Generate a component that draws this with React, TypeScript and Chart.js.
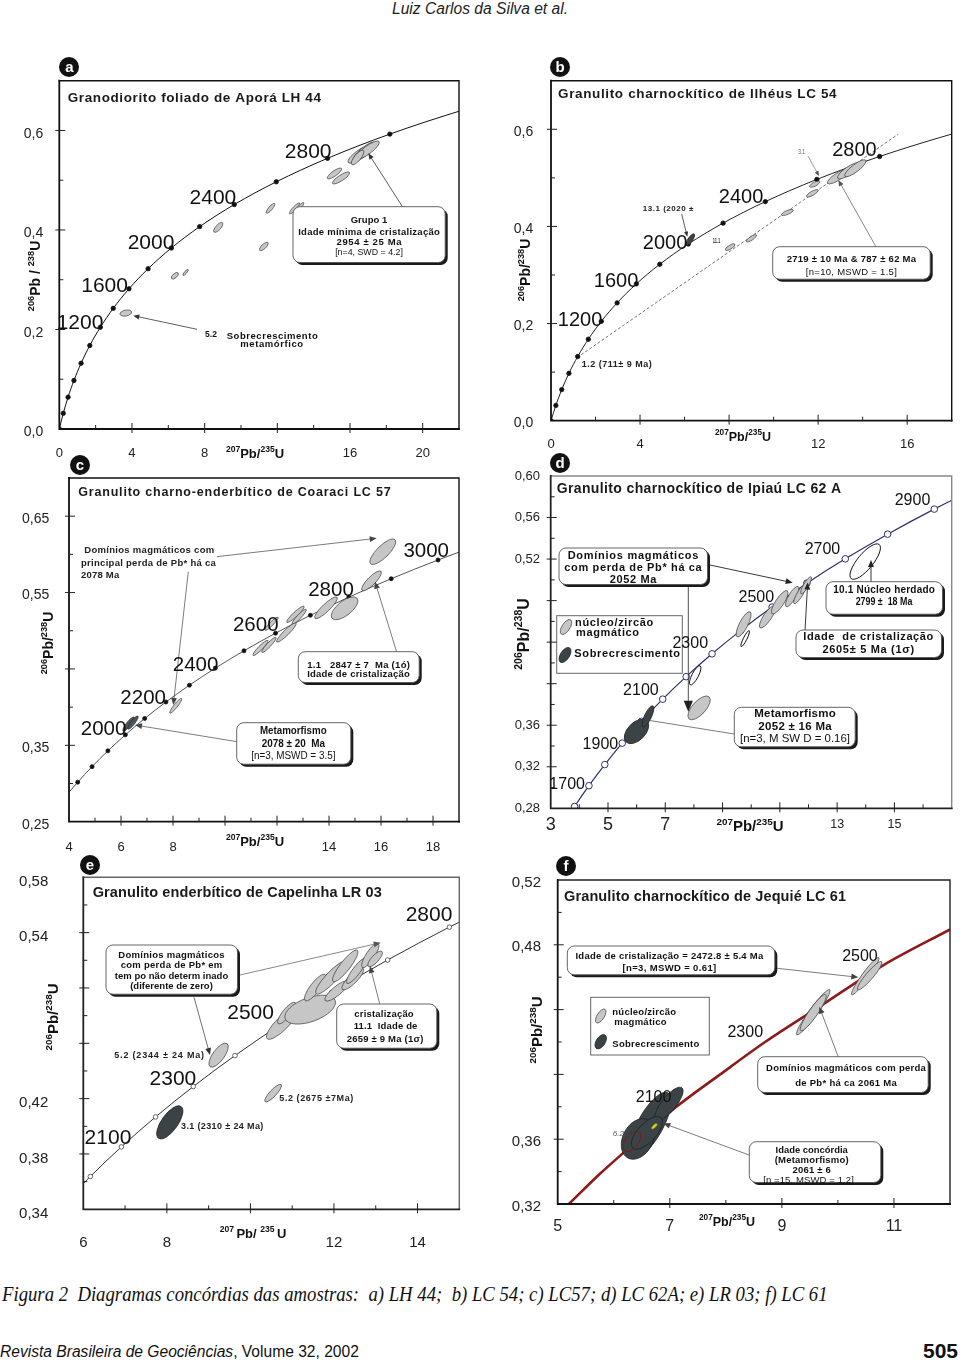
import React, { useEffect, useRef } from "react";
import { Chart, registerables } from "chart.js";
Chart.register(...registerables);

// ------------------------------------------------------------------ DATA
// Concordia (Wetherill) reference ages in Ma and their isotope ratios
const concAges = [0, 200, 400, 600, 800, 1000, 1200, 1400, 1500, 1600, 1700, 1800, 1900, 2000, 2100, 2200, 2300, 2400, 2500, 2600, 2700, 2800, 2900, 3000, 3100, 3200];
const concX = [0, 0.2177, 0.4828, 0.8056, 1.1988, 1.6774, 2.2603, 2.9701, 3.3811, 3.8344, 4.3348, 4.8874, 5.4962, 6.1685, 6.9104, 7.7292, 8.6327, 9.6295, 10.7301, 11.9444, 13.2842, 14.7625, 16.3924, 18.193, 20.1795, 22.3714];
const concY = [0, 0.03151, 0.06402, 0.09754, 0.13213, 0.1678, 0.20458, 0.24257, 0.26199, 0.28172, 0.30175, 0.3221, 0.34278, 0.36375, 0.3851, 0.40676, 0.42875, 0.4511, 0.47378, 0.49682, 0.52022, 0.54399, 0.56812, 0.59264, 0.61753, 0.64282];

// panel b discordia (787 Ma - 2719 Ma, extended)
const discX = [1.17, 15.6];
const discY = [0.1298, 0.59];

// panel f concordia as drawn in the figure
const fCurveX = [5.2, 5.75, 6.4, 7.1, 7.9, 8.7, 9.7, 10.8, 12.0];
const fCurveY = [0.32, 0.3385, 0.3585, 0.3795, 0.4, 0.42, 0.4425, 0.4672, 0.4895];

// age labels on the concordia
const aAgeLabels = [1200, 1600, 2000, 2400, 2800];
const bAgeLabels = [1200, 1600, 2000, 2400, 2800];
const cAgeLabels = [2000, 2200, 2400, 2600, 2800, 3000];
const dAgeLabels = [1700, 1900, 2100, 2300, 2500, 2700, 2900];
const eAgeLabels = [2100, 2300, 2500, 2800];
const fAgeLabels = [2100, 2300, 2500];
const fAgeX = [7.1, 8.7, 10.8];
const fAgeY = [0.3795, 0.42, 0.4672];

// tick labels
const aXTickLabels = [0, 4, 8, 16, 20];
const aYTickLabels = [0, 0.2, 0.4, 0.6];
const bXTickLabels = [0, 4, 12, 16];
const bYTickLabels = [0, 0.2, 0.4, 0.6];
const cXTickLabels = [4, 6, 8, 14, 16, 18];
const cYTickLabels = [0.25, 0.35, 0.55, 0.65];
const dXTickLabels = [3, 5, 7, 13, 15];
const dYTickLabels = [0.28, 0.32, 0.36, 0.52, 0.56, 0.6];
const eXTickLabels = [6, 8, 12, 14];
const eYTickLabels = [0.34, 0.38, 0.42, 0.54, 0.58];
const fXTickLabels = [5, 7, 9, 11];
const fYTickLabels = [0.32, 0.36, 0.48, 0.52];

// error ellipses: [x1, y1, x2, y2, minor/major ratio, kind]  (major axis ends, ratio units)
type Ell = [number, number, number, number, number, string];
const ellA: Ell[] = [
  [15.9, 0.5356, 17.1, 0.5677, 0.3, "g"],
  [16.2, 0.5396, 17.4, 0.5757, 0.3, "g"],
  [16.36, 0.5436, 17.6, 0.5777, 0.28, "g"],
  [16.1, 0.5316, 16.74, 0.5597, 0.35, "g"],
  [14.76, 0.5035, 15.53, 0.5236, 0.3, "g"],
  [15.04, 0.4935, 15.97, 0.5155, 0.28, "g"],
  [11.4, 0.434, 11.85, 0.453, 0.3, "g"],
  [12.68, 0.4327, 13.22, 0.454, 0.25, "g"],
  [12.95, 0.4347, 13.45, 0.4547, 0.25, "g"],
  [8.52, 0.3958, 8.98, 0.4146, 0.4, "g"],
  [11.03, 0.359, 11.48, 0.3745, 0.4, "g"],
  [6.18, 0.3023, 6.54, 0.3136, 0.5, "g"],
  [6.81, 0.3089, 7.09, 0.3204, 0.3, "g"],
  [3.34, 0.2307, 3.98, 0.2353, 0.5, "g"],
];
const ellB: Ell[] = [
  [6.09, 0.3617, 6.43, 0.3844, 0.35, "k"],
  [7.84, 0.3514, 8.26, 0.3632, 0.35, "g"],
  [8.78, 0.3686, 9.23, 0.3823, 0.3, "g"],
  [10.35, 0.4235, 10.88, 0.4338, 0.3, "g"],
  [11.48, 0.4612, 12.0, 0.475, 0.3, "g"],
  [12.43, 0.4888, 13.33, 0.5161, 0.3, "g"],
  [12.88, 0.4991, 13.87, 0.53, 0.3, "g"],
  [13.2, 0.5032, 14.14, 0.5362, 0.28, "g"],
  [11.62, 0.4818, 12.07, 0.4921, 0.35, "g"],
];
const ellC: Ell[] = [
  [15.6, 0.5878, 16.54, 0.6192, 0.35, "g"],
  [15.27, 0.5529, 16.0, 0.5778, 0.3, "g"],
  [13.46, 0.5163, 14.31, 0.5438, 0.25, "g"],
  [14.12, 0.5163, 15.08, 0.5425, 0.45, "g"],
  [12.38, 0.5111, 13.04, 0.532, 0.2, "g"],
  [12.58, 0.5085, 13.12, 0.5281, 0.2, "g"],
  [11.99, 0.4853, 12.73, 0.5101, 0.2, "g"],
  [11.54, 0.5006, 12.04, 0.5177, 0.2, "g"],
  [11.08, 0.4677, 11.65, 0.4873, 0.2, "g"],
  [11.42, 0.4717, 11.96, 0.4913, 0.2, "g"],
  [7.88, 0.3921, 8.33, 0.4113, 0.2, "g"],
  [6.08, 0.3686, 6.5, 0.3869, 0.25, "d"],
  [6.27, 0.3713, 6.65, 0.3883, 0.25, "d"],
];
const ellD: Ell[] = [
  [5.63, 0.3439, 6.36, 0.3641, 0.6, "k"],
  [6.22, 0.3584, 6.57, 0.3786, 0.3, "k"],
  [7.83, 0.3661, 8.53, 0.3873, 0.45, "g"],
  [7.87, 0.3989, 8.22, 0.4172, 0.3, "o"],
  [9.51, 0.4451, 9.96, 0.4692, 0.3, "g"],
  [9.65, 0.4357, 9.93, 0.4511, 0.2, "o"],
  [10.31, 0.4538, 10.83, 0.475, 0.3, "g"],
  [10.73, 0.4673, 11.26, 0.4895, 0.3, "g"],
  [11.22, 0.4743, 11.64, 0.4936, 0.3, "g"],
  [11.5, 0.4771, 11.92, 0.4964, 0.25, "g"],
  [11.74, 0.4866, 12.09, 0.5029, 0.25, "g"],
  [13.49, 0.5012, 14.47, 0.534, 0.35, "o"],
];
const ellE: Ell[] = [
  [7.8, 0.3914, 8.34, 0.4143, 0.42, "k"],
  [9.035, 0.4431, 9.442, 0.4598, 0.4, "g"],
  [10.352, 0.4178, 10.735, 0.4301, 0.28, "g"],
  [10.4, 0.4634, 11.119, 0.4851, 0.3, "g"],
  [10.664, 0.4742, 11.071, 0.4895, 0.3, "g"],
  [10.831, 0.4778, 12.029, 0.4909, 0.45, "g"],
  [11.31, 0.4909, 11.79, 0.5097, 0.3, "g"],
  [11.574, 0.4959, 12.293, 0.5191, 0.25, "g"],
  [11.79, 0.4909, 12.34, 0.5047, 0.3, "g"],
  [11.98, 0.5047, 12.56, 0.5272, 0.25, "g"],
  [12.2, 0.4989, 12.7, 0.5141, 0.3, "g"],
  [12.31, 0.5033, 12.76, 0.5214, 0.25, "g"],
  [12.68, 0.5148, 13.06, 0.5322, 0.3, "g"],
  [12.82, 0.5156, 13.15, 0.5264, 0.35, "g"],
];
const ellF: Ell[] = [
  [6.342, 0.3491, 6.966, 0.3886, 0.35, "k"],
  [6.752, 0.3719, 7.216, 0.3917, 0.35, "k"],
  [6.253, 0.3484, 6.61, 0.3719, 0.7, "k"],
  [6.342, 0.3546, 6.841, 0.3732, 0.45, "k"],
  [6.2, 0.3528, 6.45, 0.3645, 0.55, "r"],
  [6.68, 0.3664, 6.77, 0.3695, 0.4, "y"],
  [9.266, 0.4245, 9.854, 0.4523, 0.15, "g"],
  [9.337, 0.427, 9.782, 0.4492, 0.2, "g"],
  [10.246, 0.4492, 10.727, 0.4721, 0.15, "g"],
  [10.353, 0.4523, 10.781, 0.4696, 0.2, "g"],
];

// ------------------------------------------------------------------ DRAW HELPERS
const FF = '"Liberation Sans", Arial, Helvetica, sans-serif';
const ELL_STYLE: any = {
  g: { fill: "#c6c6c6", stroke: "#3a3a3a", lw: 0.7 },
  k: { fill: "#3c4347", stroke: "#1d2123", lw: 0.8 },
  d: { fill: "#4d565b", stroke: "#222", lw: 0.7 },
  o: { fill: "#ffffff", stroke: "#111", lw: 1 },
  r: { fill: null, stroke: "#7a1c1c", lw: 1 },
  y: { fill: "#d8cf2a", stroke: "#9a9010", lw: 0.5 },
};

function setF(ctx: any, size: number, bold = false, italic = false) {
  ctx.font = `${italic ? "italic " : ""}${bold ? "bold " : ""}${size}px ${FF}`;
}

function T(ctx: any, s: string, x: number, y: number, size: number, bold = false, align = "left", w = 0, color = "#111", italic = false) {
  ctx.save();
  setF(ctx, size, bold, italic);
  ctx.fillStyle = color;
  ctx.textBaseline = "middle";
  ctx.textAlign = "left";
  const hasLS = "letterSpacing" in ctx;
  if (hasLS) ctx.letterSpacing = "0px";
  const w0 = ctx.measureText(s).width;
  const tw = w > 0 ? w : w0;
  const x0 = align === "left" ? x : align === "center" ? x - tw / 2 : x - tw;
  if (tw <= w0 + 0.01) {
    ctx.translate(x0, y);
    ctx.scale(tw / w0, 1);
    ctx.fillText(s, 0, 0);
  } else {
    const chars = Array.from(s);
    const ls = chars.length > 1 ? (tw - w0) / (chars.length - 1) : 0;
    if (hasLS) {
      ctx.letterSpacing = ls.toFixed(2) + "px";
      ctx.fillText(s, x0, y);
    } else {
      let cx = x0;
      for (const ch of chars) {
        ctx.fillText(ch, cx, y);
        cx += ctx.measureText(ch).width + ls;
      }
    }
  }
  ctx.restore();
}

type Part = [string, number, boolean, number];
function rich(ctx: any, parts: Part[], cx: number, cy: number, main: number, rot = 0) {
  ctx.save();
  let total = 0;
  const ws: number[] = [];
  for (const p of parts) {
    setF(ctx, p[1], p[2]);
    const w = ctx.measureText(p[0]).width;
    ws.push(w);
    total += w;
  }
  ctx.translate(cx, cy);
  if (rot) ctx.rotate(rot);
  ctx.textBaseline = "alphabetic";
  ctx.textAlign = "left";
  ctx.fillStyle = "#111";
  let x = -total / 2;
  parts.forEach((p, i) => {
    setF(ctx, p[1], p[2]);
    ctx.fillText(p[0], x, main * 0.36 + p[3]);
    x += ws[i];
  });
  ctx.restore();
}
const xt = (s: number, gap = false): Part[] => [
  ["207" + (gap ? " " : ""), s * 0.66, true, -s * 0.42],
  ["Pb", s, true, 0],
  [gap ? "/ " : "/", s, true, 0],
  ["235" + (gap ? " " : ""), s * 0.66, true, -s * 0.42],
  ["U", s, true, 0],
];
const yt = (s: number, sep = "/"): Part[] => [
  ["206", s * 0.66, true, -s * 0.42],
  ["Pb", s, true, 0],
  [sep, s, true, 0],
  ["238", s * 0.66, true, -s * 0.42],
  ["U", s, true, 0],
];

function rrPath(ctx: any, x: number, y: number, w: number, h: number, r: number) {
  ctx.beginPath();
  ctx.moveTo(x + r, y);
  ctx.arcTo(x + w, y, x + w, y + h, r);
  ctx.arcTo(x + w, y + h, x, y + h, r);
  ctx.arcTo(x, y + h, x, y, r);
  ctx.arcTo(x, y, x + w, y, r);
  ctx.closePath();
}
function rbox(ctx: any, x1: number, y1: number, x2: number, y2: number, r = 7, sh = 2.5) {
  const w = x2 - x1 - sh, h = y2 - y1 - sh;
  ctx.save();
  ctx.fillStyle = "#1a1a1a";
  rrPath(ctx, x1 + sh, y1 + sh, w, h, r);
  ctx.fill();
  ctx.fillStyle = "#fff";
  rrPath(ctx, x1, y1, w, h, r);
  ctx.fill();
  ctx.strokeStyle = "#555";
  ctx.lineWidth = 0.9;
  ctx.stroke();
  ctx.restore();
}
function sbox(ctx: any, x1: number, y1: number, x2: number, y2: number) {
  ctx.save();
  ctx.fillStyle = "#fff";
  ctx.fillRect(x1, y1, x2 - x1, y2 - y1);
  ctx.strokeStyle = "#666";
  ctx.lineWidth = 1;
  ctx.strokeRect(x1, y1, x2 - x1, y2 - y1);
  ctx.restore();
}
function arrow(ctx: any, x1: number, y1: number, x2: number, y2: number, head = 6, tip = true, lw = 0.8, color = "#333") {
  ctx.save();
  ctx.strokeStyle = color;
  ctx.fillStyle = color;
  ctx.lineWidth = lw;
  const a = Math.atan2(y2 - y1, x2 - x1);
  const c = Math.cos(a), s = Math.sin(a);
  const ex = tip ? x2 - c * head * 0.8 : x2, ey = tip ? y2 - s * head * 0.8 : y2;
  ctx.beginPath();
  ctx.moveTo(x1, y1);
  ctx.lineTo(ex, ey);
  ctx.stroke();
  if (tip) {
    const hw = head * 0.42;
    ctx.beginPath();
    ctx.moveTo(x2, y2);
    ctx.lineTo(x2 - head * c + hw * s, y2 - head * s - hw * c);
    ctx.lineTo(x2 - head * c - hw * s, y2 - head * s + hw * c);
    ctx.closePath();
    ctx.fill();
  }
  ctx.restore();
}
function ellPix(ctx: any, cx: number, cy: number, a: number, b: number, ang: number, kind: string) {
  const st = ELL_STYLE[kind];
  ctx.save();
  ctx.beginPath();
  ctx.ellipse(cx, cy, Math.max(a, 1), Math.max(b, 0.8), ang, 0, Math.PI * 2);
  if (st.fill) {
    ctx.fillStyle = st.fill;
    ctx.fill();
  }
  ctx.strokeStyle = st.stroke;
  ctx.lineWidth = st.lw;
  ctx.stroke();
  ctx.restore();
}

// ------------------------------------------------------------------ PANEL CONFIG
const agePts = (ages: number[], off: number[][]) =>
  ages.map((a, i) => {
    const k = concAges.indexOf(a);
    return { x: concX[k], y: concY[k], text: String(a), dx: off[i][0], dy: off[i][1] };
  });

function concDS(o: any) {
  return {
    data: concX.map((x, i) => ({ x, y: concY[i] })),
    showLine: true,
    borderColor: o.color,
    borderWidth: o.lw,
    cubicInterpolationMode: "monotone",
    pointRadius: concAges.map((a) => (a % o.step === 0 && a >= o.minAge ? o.r : 0)),
    pointBackgroundColor: o.fill,
    pointBorderColor: o.border,
    pointBorderWidth: o.bw || 0.8,
    order: 1,
  };
}

const PANELS: any[] = [
  {
    id: "a", rect: [0, 50, 500, 420], frame: [59.3, 80.7, 459, 429],
    x: { min: 0, max: 22, step: 2, major: 4, labels: aXTickLabels, size: 13, pad: 17.8 },
    y: { min: 0, max: 0.7, step: 0.1, major: 0.2, labels: aYTickLabels, dec: 1, size: 14, pad: 16, off: 3.2 },
    datasets: [concDS({ color: "#111", lw: 1, step: 200, minAge: 0, r: 2.2, fill: "#111", border: "#111" })],
    ellipses: ellA,
    ages: agePts(aAgeLabels, [[3, -4], [-1, -3], [3, -5], [2, -6], [4, -6]]),
    ageSize: 21,
    title: ["Granodiorito foliado de Aporá LH 44", 67.7, 98.3, 13.5, 253.3],
    xTitle: [xt(13), 255, 453, 13], yTitle: [yt(14, " / "), 35, 276, 14],
    fc: ["#111", "#111"],
    annot: (ctx: any) => {
      arrow(ctx, 403.3, 208, 368.3, 153.3, 6);
      rbox(ctx, 293, 206.7, 447.7, 265);
      T(ctx, "Grupo 1", 369, 220, 9.5, true, "center", 36.7);
      T(ctx, "Idade mínima de cristalização", 369, 232.3, 9.5, true, "center", 141.7);
      T(ctx, "2954 ± 25 Ma", 369, 242.5, 9.5, true, "center", 65);
      T(ctx, "[n=4, SWD = 4.2]", 369, 252.5, 9.5, false, "center", 67.7);
      T(ctx, "5.2", 205, 335, 8.5, true, "left", 12);
      T(ctx, "Sobrecrescimento", 226.7, 336.7, 9.5, true, "left", 91);
      T(ctx, "metamórfico", 271.7, 344, 9.5, true, "center", 62.7);
      arrow(ctx, 197, 329.3, 133.3, 315.7, 6);
    },
  },
  {
    id: "b", rect: [480, 50, 500, 420], frame: [551, 80.7, 951.7, 420.7],
    x: { min: 0, max: 18, step: 2, major: 4, labels: bXTickLabels, size: 13, pad: 16.8 },
    y: { min: 0, max: 0.7, step: 0.1, major: 0.2, labels: bYTickLabels, dec: 1, size: 14, pad: 17.7, off: 2.4 },
    datasets: [
      concDS({ color: "#222", lw: 1, step: 200, minAge: 0, r: 2.2, fill: "#111", border: "#111" }),
      { data: discX.map((x, i) => ({ x, y: discY[i] })), showLine: true, borderColor: "#666", borderWidth: 0.9, borderDash: [3, 2], pointRadius: 0, order: 2 },
    ],
    ellipses: ellB,
    ages: agePts(bAgeLabels, [[1, -1], [2, -2], [-1, -1], [-2, -4], [-3, -6]]),
    ageSize: 20,
    title: ["Granulito charnockítico de Ilhéus LC 54", 558, 94.3, 13.5, 278.7],
    xTitle: [xt(12.5), 743, 436, 12.5], yTitle: [yt(14), 525, 270, 14],
    fc: ["#111", "#111"],
    annot: (ctx: any) => {
      T(ctx, "13.1 (2020 ±", 642.7, 208.3, 8, true, "left", 50.7, "#222");
      arrow(ctx, 681.7, 214, 687.3, 236.7, 5);
      T(ctx, "11.1", 712.7, 240.7, 7, true, "left", 7.5, "#333");
      T(ctx, "3.1", 798.3, 151.7, 7, false, "left", 6.7, "#555");
      arrow(ctx, 808, 156, 819, 176, 5, true, 0.6, "#555");
      T(ctx, "1.2 (711± 9 Ma)", 581.7, 365, 9, true, "left", 70, "#222");
      arrow(ctx, 876.7, 248, 838.3, 180, 6, true, 0.7, "#555");
      rbox(ctx, 772.7, 246.7, 932.7, 281.7);
      T(ctx, "2719 ± 10 Ma & 787 ± 62 Ma", 851.3, 259.3, 9.5, true, "center", 129.3);
      T(ctx, "[n=10, MSWD = 1.5]", 851.3, 272.8, 9.5, false, "center", 91);
    },
  },
  {
    id: "c", rect: [0, 446, 500, 414], frame: [69, 478, 459, 821.7],
    x: { min: 4, max: 19, step: 1, major: 2, labels: cXTickLabels, size: 13, pad: 19.5 },
    y: { min: 0.25, max: 0.7, step: 0.05, major: 0.1, labels: cYTickLabels, dec: 2, size: 14, pad: 19.7, off: 3 },
    datasets: [concDS({ color: "#555", lw: 1, step: 100, minAge: 1700, r: 2, fill: "#111", border: "#111" })],
    ellipses: ellC,
    ages: agePts(cAgeLabels, [[1, -5], [0, -4], [3, -3], [3, -8], [5, -7], [11, -9]]),
    ageSize: 20.5,
    title: ["Granulito charno-enderbítico de Coaraci LC 57", 78.3, 492.7, 12.5, 312.3],
    xTitle: [xt(13), 255, 841, 13], yTitle: [yt(14), 48, 643, 14],
    fc: ["#111", "#111"],
    annot: (ctx: any) => {
      T(ctx, "Domínios magmáticos com", 84.3, 550.7, 9.5, true, "left", 130, "#222");
      T(ctx, "principal perda de Pb* há ca", 81, 563.3, 9.5, true, "left", 134.7, "#222");
      T(ctx, "2078 Ma", 81, 575.7, 9.5, true, "left", 38.3, "#222");
      arrow(ctx, 216.7, 556.7, 376.7, 538.3, 7, true, 0.7, "#444");
      arrow(ctx, 188.3, 571.7, 173.3, 705, 7, true, 0.7, "#444");
      arrow(ctx, 396.7, 652, 375, 581.7, 7, true, 0.7, "#444");
      rbox(ctx, 298.3, 651.7, 421.7, 685);
      T(ctx, "1.1   2847 ± 7  Ma (1ó)", 358.5, 665, 9.5, true, "center", 102.7);
      T(ctx, "Idade de cristalização", 358.5, 674.5, 9.5, true, "center", 102.7);
      arrow(ctx, 237, 741.7, 135, 725, 7, true, 0.7, "#444");
      rbox(ctx, 236.7, 722.7, 353.3, 766.7);
      T(ctx, "Metamorfismo", 293.3, 731.7, 10, true, "center", 66.7);
      T(ctx, "2078 ± 20  Ma", 293.3, 744, 10, true, "center", 63.3);
      T(ctx, "[n=3, MSWD = 3.5]", 293.3, 756, 10, false, "center", 84.3);
    },
  },
  {
    id: "d", rect: [480, 450, 500, 410], frame: [550.7, 476, 951.7, 808.3],
    x: { min: 3, max: 17, step: 1, major: 2, labels: dXTickLabels, size: 18, pad: 7.7, big: 10 },
    y: { min: 0.28, max: 0.6, step: 0.02, major: 0.04, labels: dYTickLabels, dec: 2, size: 13, pad: 10.7, off: 0 },
    datasets: [concDS({ color: "#2f2f72", lw: 1.2, step: 100, minAge: 0, r: 3.3, fill: "#fff", border: "#2f2f72", bw: 1 })],
    ellipses: ellD,
    ages: agePts(dAgeLabels, [[-4, -1], [-4, 1], [-4, -9], [-4, -10], [2, -9], [-5, -9], [-4, -9]]),
    ageSize: 16,
    title: ["Granulito charnockítico de Ipiaú LC 62 A", 556.7, 489.3, 14, 284.3],
    xTitle: [xt(15), 750, 826, 15], yTitle: [yt(16), 523, 634, 16],
    fc: ["#222", "#888"],
    annot: (ctx: any) => {
      arrow(ctx, 710, 565, 792.7, 582.7, 7, true, 0.9, "#222");
      arrow(ctx, 688.3, 587, 688.3, 711.7, 11, true, 0.8, "#222");
      rbox(ctx, 559, 548, 710, 587);
      T(ctx, "Domínios magmáticos", 633, 555.5, 11, true, "center", 130.7);
      T(ctx, "com perda de Pb* há ca", 633, 567.5, 11, true, "center", 137.3);
      T(ctx, "2052 Ma", 633, 580, 11, true, "center", 46.7);
      sbox(ctx, 556.7, 615.7, 682.3, 673.3);
      ellPix(ctx, 566, 627, 8.5, 4, -1.0, "g");
      ellPix(ctx, 565, 655, 8.5, 4.5, -1.0, "k");
      T(ctx, "núcleo/zircão", 575, 623.3, 11, true, "left", 78.3);
      T(ctx, "magmático", 576, 632.7, 11, true, "left", 63);
      T(ctx, "Sobrecrescimento", 574.3, 654, 11, true, "left", 105.7);
      arrow(ctx, 871, 582, 871, 560, 7, true, 0.9, "#222");
      rbox(ctx, 826, 581.7, 945, 616.7);
      T(ctx, "10.1 Núcleo herdado", 884, 590, 10, true, "center", 101.7);
      T(ctx, "2799 ±  18 Ma", 884, 602.7, 10, true, "center", 56.7);
      arrow(ctx, 805, 631, 807.7, 582.5, 7, true, 0.9, "#222");
      rbox(ctx, 796, 630, 944, 660);
      T(ctx, "Idade  de cristalização", 868.3, 637, 11, true, "center", 130);
      T(ctx, "2605± 5 Ma (1σ)", 868.3, 649.5, 11, true, "center", 91.7);
      arrow(ctx, 734.3, 734, 646.7, 720, 0, false, 0.7, "#444");
      rbox(ctx, 734.3, 707.3, 857.7, 749.3);
      T(ctx, "Metamorfismo", 795, 714.3, 11.5, true, "center", 81.7);
      T(ctx, "2052 ± 16 Ma", 795, 727.3, 11.5, true, "center", 73.3);
      T(ctx, "[n=3, M SW D = 0.16]", 795, 739.3, 11.5, false, "center", 110);
    },
  },
  {
    id: "e", rect: [0, 830, 500, 426], frame: [83.3, 877.3, 459.3, 1209.3],
    x: { min: 6, max: 15, step: 1, major: 2, labels: eXTickLabels, size: 15, pad: 26 },
    y: { min: 0.34, max: 0.58, step: 0.02, major: 0.04, labels: eYTickLabels, dec: 2, size: 15, pad: 35, off: 4.5 },
    datasets: [concDS({ color: "#333", lw: 1, step: 100, minAge: 0, r: 2.3, fill: "#fff", border: "#444", bw: 0.8 })],
    ellipses: ellE,
    ages: agePts(eAgeLabels, [[10, -9], [3, -7], [-7, -11], [3, -12]]),
    ageSize: 21,
    title: ["Granulito enderbítico de Capelinha LR 03", 92.7, 892.7, 14.5, 289],
    xTitle: [xt(13, true), 253, 1233, 13], yTitle: [yt(15), 53, 1017, 15],
    fc: ["#222", "#666"],
    annot: (ctx: any) => {
      arrow(ctx, 240, 975, 380.7, 942.7, 7, true, 0.7, "#555");
      arrow(ctx, 194, 997.3, 210, 1055, 7, true, 0.7, "#333");
      rbox(ctx, 106, 945, 240, 996.7);
      T(ctx, "Domínios magmáticos", 171.5, 955, 9.5, true, "center", 106.3);
      T(ctx, "com perda de Pb* em", 171.5, 965, 9.5, true, "center", 101.7);
      T(ctx, "tem po não determ inado", 171.5, 976, 9.5, true, "center", 113.3);
      T(ctx, "(diferente de zero)", 171.5, 986.7, 9.5, true, "center", 82.7);
      T(ctx, "5.2 (2344 ± 24 Ma)", 114.3, 1055.7, 9, true, "left", 89.7, "#222");
      T(ctx, "5.2 (2675 ±7Ma)", 279.3, 1098.7, 9, true, "left", 74, "#222");
      T(ctx, "3.1 (2310 ± 24 Ma)", 181, 1126.7, 9, true, "left", 82.3, "#222");
      arrow(ctx, 380, 1005, 370, 966, 7, true, 0.7, "#444");
      rbox(ctx, 336.7, 1004, 439.3, 1050.7);
      T(ctx, "cristalização", 384, 1014, 9.5, true, "center", 59.3);
      T(ctx, "11.1  Idade de", 385.5, 1026.7, 9.5, true, "center", 63.7);
      T(ctx, "2659 ± 9 Ma (1σ)", 385, 1039, 9.5, true, "center", 76.7);
    },
  },
  {
    id: "f", rect: [480, 850, 500, 406], frame: [557.7, 880, 950, 1204],
    x: { min: 5, max: 12, step: 1, major: 2, labels: fXTickLabels, size: 16, pad: 14.7 },
    y: { min: 0.32, max: 0.52, step: 0.02, major: 0.04, labels: fYTickLabels, dec: 2, size: 15, pad: 16.7, off: 2.5 },
    datasets: [
      { data: fCurveX.map((x, i) => ({ x, y: fCurveY[i] })), showLine: true, borderColor: "#8e1b1b", borderWidth: 2.6, cubicInterpolationMode: "monotone", pointRadius: 0 },
    ],
    ellipses: ellF,
    ages: fAgeLabels.map((a, i) => ({ x: fAgeX[i], y: fAgeY[i], text: String(a), dx: [-4, -2, -5][i], dy: [-10.5, -9.6, -8.6][i] })),
    ageSize: 16,
    title: ["Granulito charnockítico de Jequié LC 61", 564, 897.3, 14.5, 282],
    xTitle: [xt(12.5), 727, 1221, 12.5], yTitle: [yt(15), 537, 1030, 15],
    fc: ["#111", "#222"],
    annot: (ctx: any) => {
      arrow(ctx, 777.3, 968.3, 858.3, 977.3, 7, true, 0.7, "#444");
      rbox(ctx, 567.3, 946, 777.3, 977.3);
      T(ctx, "Idade de cristalização = 2472.8 ± 5.4 Ma", 669.3, 956.7, 9.5, true, "center", 187.7);
      T(ctx, "[n=3, MSWD = 0.61]", 669.3, 968.3, 9.5, true, "center", 93.7);
      sbox(ctx, 590.7, 997.3, 709.3, 1055);
      ellPix(ctx, 600.7, 1016, 8, 3.6, -1.0, "g");
      ellPix(ctx, 600.7, 1041.7, 8, 4.5, -1.0, "k");
      T(ctx, "núcleo/zircão", 612.3, 1012.3, 9.5, true, "left", 63.7);
      T(ctx, "magmático", 614.3, 1022.3, 9.5, true, "left", 52.3);
      T(ctx, "Sobrecrescimento", 612.3, 1044, 9.5, true, "left", 87);
      arrow(ctx, 838.3, 1057, 819.3, 1006.7, 7, true, 0.7, "#444");
      rbox(ctx, 757.7, 1056.7, 930.7, 1095);
      T(ctx, "Domínios magmáticos com perda", 846, 1068.3, 9.5, true, "center", 160);
      T(ctx, "de Pb* há ca 2061 Ma", 846, 1083.3, 9.5, true, "center", 101.7);
      arrow(ctx, 749, 1155, 663.3, 1123.3, 7, true, 0.7, "#444");
      rbox(ctx, 749.3, 1141.7, 883.3, 1185);
      T(ctx, "Idade concórdia", 811.7, 1150.7, 9.5, true, "center", 72.3);
      T(ctx, "(Metamorfismo)", 811.7, 1160.7, 9.5, true, "center", 74);
      T(ctx, "2061 ± 6", 811.7, 1170, 9.5, true, "center", 38.3);
      T(ctx, "[n =15, MSWD = 1.2]", 808.5, 1180, 9.5, false, "center", 90.7);
      T(ctx, "6.2", 612.7, 1134, 8, false, "left", 11.3, "#555", true);
    },
  },
];

const has = (arr: number[], v: number) => arr.some((a) => Math.abs(a - v) < 1e-6);
const isMajor = (v: number, min: number, step: number) => {
  const r = (v - min) / step;
  return Math.abs(r - Math.round(r)) < 1e-6;
};

function decoPlugin(p: any) {
  return {
    id: "deco" + p.id,
    afterDatasetsDraw(chart: any) {
      const ctx = chart.ctx;
      const xs = chart.scales.x, ys = chart.scales.y;
      const L = p.rect[0], Tp = p.rect[1];
      const P = (x: number, y: number) => [xs.getPixelForValue(x) + L, ys.getPixelForValue(y) + Tp];
      const ca = chart.chartArea;
      const fl = ca.left + L, ft = ca.top + Tp, fr = ca.right + L, fb = ca.bottom + Tp;
      ctx.save();
      ctx.translate(-L, -Tp);
      // ellipses
      ctx.save();
      ctx.beginPath();
      ctx.rect(fl, ft, fr - fl, fb - ft);
      ctx.clip();
      for (const e of p.ellipses) {
        const a = P(e[0], e[1]), b = P(e[2], e[3]);
        const cx = (a[0] + b[0]) / 2, cy = (a[1] + b[1]) / 2;
        const half = Math.hypot(b[0] - a[0], b[1] - a[1]) / 2;
        ellPix(ctx, cx, cy, half, half * e[4], Math.atan2(b[1] - a[1], b[0] - a[0]), e[5]);
      }
      ctx.restore();
      // annotations
      p.annot(ctx);
      // age labels
      for (const g of p.ages) {
        const q = P(g.x, g.y);
        T(ctx, g.text, q[0] + g.dx, q[1] + g.dy, p.ageSize, false, "right", 0, "#111");
      }
      // frame
      ctx.lineCap = "square";
      ctx.strokeStyle = p.fc[1];
      ctx.lineWidth = 1.4;
      ctx.beginPath();
      ctx.moveTo(fl, ft);
      ctx.lineTo(fr, ft);
      ctx.lineTo(fr, fb);
      ctx.stroke();
      ctx.strokeStyle = p.fc[0];
      ctx.lineWidth = 1.8;
      ctx.beginPath();
      ctx.moveTo(fl, ft);
      ctx.lineTo(fl, fb);
      ctx.lineTo(fr, fb);
      ctx.stroke();
      // tick marks
      ctx.strokeStyle = "#222";
      ctx.lineWidth = 1;
      ctx.lineCap = "butt";
      for (const t of xs.ticks) {
        const v = t.value;
        if (v <= p.x.min + 1e-9 || v >= p.x.max - 1e-9) continue;
        const px = xs.getPixelForValue(v) + L;
        const mj = isMajor(v, p.x.min, p.x.major);
        ctx.beginPath();
        ctx.moveTo(px, fb + (mj ? 4 : 0));
        ctx.lineTo(px, fb - (mj ? 6 : 4));
        ctx.stroke();
      }
      for (const t of ys.ticks) {
        const v = t.value;
        if (v <= p.y.min + 1e-9 || v >= p.y.max - 1e-9) continue;
        const py = ys.getPixelForValue(v) + Tp;
        const mj = isMajor(v, p.y.min, p.y.major);
        ctx.beginPath();
        ctx.moveTo(fl - (mj ? 4 : 0), py);
        ctx.lineTo(fl + (mj ? 6 : 4), py);
        ctx.stroke();
      }
      // titles
      const t = p.title;
      T(ctx, t[0], t[1], t[2], t[3], true, "left", t[4], "#1a1a1a");
      rich(ctx, p.xTitle[0], p.xTitle[1], p.xTitle[2], p.xTitle[3]);
      rich(ctx, p.yTitle[0], p.yTitle[1], p.yTitle[2], p.yTitle[3], -Math.PI / 2);
      ctx.restore();
    },
  };
}

function PanelChart({ cfg }: { cfg: any }) {
  const ref = useRef<HTMLCanvasElement>(null);
  useEffect(() => {
    const c = ref.current as HTMLCanvasElement;
    const [L, Tp, W, H] = cfg.rect;
    const [fl, ft, fr, fb] = cfg.frame;
    const xo = cfg.x, yo = cfg.y;
    const chart = new Chart(c, {
      type: "scatter",
      data: { datasets: cfg.datasets },
      options: {
        animation: false,
        responsive: false,
        devicePixelRatio: 1,
        events: [],
        layout: { padding: { left: 0, top: ft - Tp, right: L + W - fr, bottom: 0 } },
        plugins: { legend: { display: false }, tooltip: { enabled: false } },
        scales: {
          x: {
            type: "linear", position: "bottom", min: xo.min, max: xo.max,
            afterFit: (s: any) => { s.height = Tp + H - fb; },
            grid: { display: false, drawTicks: false },
            border: { display: false },
            ticks: {
              stepSize: xo.step, autoSkip: false, maxRotation: 0, minRotation: 0,
              padding: xo.pad, color: "#222",
              font: (ctx: any) => ({
                family: FF,
                size: xo.big && ctx.tick && ctx.tick.value > 10 ? 12.5 : xo.size,
                lineHeight: xo.size + "px",
              }),
              callback: (v: any) => (has(xo.labels, Number(v)) ? String(Math.round(Number(v))) : ""),
            },
          },
          y: {
            type: "linear", position: "left", min: yo.min, max: yo.max,
            afterFit: (s: any) => { s.width = fl - L; },
            grid: { display: false, drawTicks: false },
            border: { display: false },
            ticks: {
              stepSize: yo.step, autoSkip: false, padding: yo.pad, color: "#222",
              labelOffset: yo.off || 0,
              font: { family: FF, size: yo.size, lineHeight: 1 },
              callback: (v: any) => (has(yo.labels, Number(v)) ? Number(v).toFixed(yo.dec).replace(".", ",") : ""),
            },
          },
        },
      } as any,
      plugins: [decoPlugin(cfg)],
    });
    return () => chart.destroy();
  }, [cfg]);
  const [L, Tp, W, H] = cfg.rect;
  return <canvas ref={ref} width={W} height={H} style={{ position: "absolute", left: L, top: Tp, width: W, height: H }} />;
}

const LETTERS: [string, number, number][] = [
  ["a", 69.3, 66.7], ["b", 560, 66.7], ["c", 80, 465], ["d", 560, 462.7], ["e", 90, 865], ["f", 566, 865.7],
];

export default function App() {
  useEffect(() => {
    document.body.style.margin = "0";
  }, []);
  return (
    <div style={{ position: "absolute", left: 0, top: 0, width: 960, height: 1361, background: "#fff", overflow: "hidden" }}>
      <div style={{ position: "absolute", left: 0, top: 1, width: 960, textAlign: "center", font: `italic 15.6px ${FF}`, color: "#222", lineHeight: "16px" }}>
        Luiz Carlos da Silva et al.
      </div>
      {PANELS.map((p) => (
        <PanelChart key={p.id} cfg={p} />
      ))}
      {LETTERS.map(([l, x, y]) => (
        <div key={l} style={{ position: "absolute", left: x - 10, top: y - 10, width: 20, height: 20, borderRadius: 10, background: "#111", color: "#fff", font: `bold 15px ${FF}`, lineHeight: "19px", textAlign: "center" }}>
          {l}
        </div>
      ))}
      <div style={{ position: "absolute", left: 2, top: 1282, whiteSpace: "pre", font: 'italic 20px "Liberation Serif", "Times New Roman", serif', color: "#111", lineHeight: "24px", transform: "scaleX(0.936)", transformOrigin: "0 0" }}>
        Figura 2  Diagramas concórdias das amostras:  a) LH 44;  b) LC 54; c) LC57; d) LC 62A; e) LR 03; f) LC 61
      </div>
      <div style={{ position: "absolute", left: 0, top: 1343, whiteSpace: "pre", font: `15.6px ${FF}`, color: "#111", lineHeight: "18px" }}>
        <i>Revista Brasileira de Geociências</i>, Volume 32, 2002
      </div>
      <div style={{ position: "absolute", right: 2, top: 1339, font: `bold 21px ${FF}`, color: "#111", lineHeight: "24px" }}>505</div>
    </div>
  );
}
